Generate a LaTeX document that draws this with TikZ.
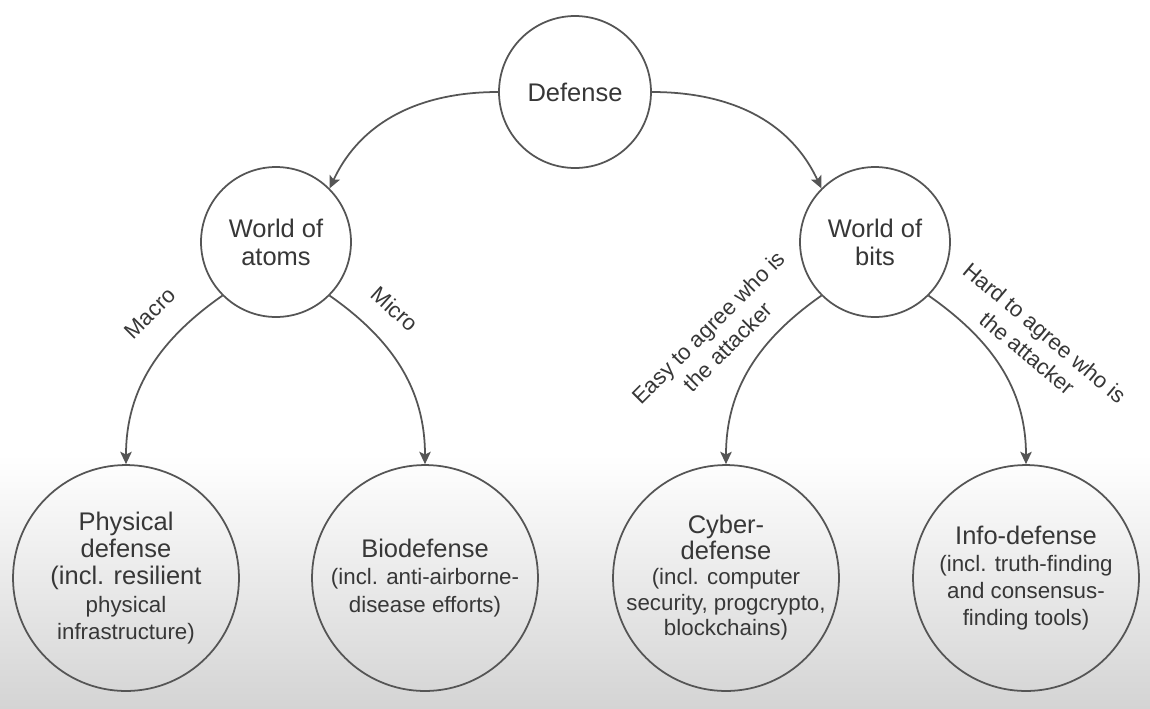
\documentclass[tikz,border=0pt]{standalone}
\usepackage{fontspec}
\setmainfont{Liberation Sans}
\usetikzlibrary{arrows.meta}
\definecolor{linegray}{RGB}{85,85,85}
\definecolor{textgray}{RGB}{55,55,55}
\definecolor{bggray}{RGB}{212,212,212}
\newcommand\subtxt{\fontsize{12.7}{15.5}\selectfont}
\tikzset{
  topnode/.style = {circle,draw=linegray,line width=1pt,inner sep=0pt,text=textgray,align=center,font=\fontsize{14.5}{16}\selectfont},
  leaf/.style = {circle,draw=linegray,line width=1pt,minimum size=4.52cm,inner sep=0pt},
  leaftext/.style = {text=textgray,align=center,font=\fontsize{14.5}{15.5}\selectfont},
  lbl/.style = {text=textgray,align=center,font=\fontsize{12.6}{15.4}\selectfont},
  arr/.style = {draw=linegray,line width=1pt,-{Stealth[length=7pt,width=6.5pt,inset=1.5pt]}}
}

\begin{document}
\begin{tikzpicture}[x=0.02cm,y=0.02cm]
  \fill[white] (0,0) rectangle (1150,-708);
  \shade[top color=white,bottom color=bggray] (0,-455) rectangle (1150,-708);
  \useasboundingbox (0,0) rectangle (1150,-708);

  \node [topnode,minimum size=3.04cm] (def) at (575,-92) {Defense};
  \node [topnode,minimum size=3cm] (atoms) at (276,-242) {World of\\atoms};
  \node [topnode,minimum size=3cm] (bits) at (875,-242) {World of\\bits};
  \foreach \n/\x in {phys/126,bio/425,cyber/726,info/1026} {
      \node [leaf] (\n) at (\x,-578) {};
  }
  \node [leaftext] (physt) at (phys) {Physical\\defense\\(incl. resilient\\\subtxt physical\\\subtxt infrastructure)};
  \node [leaftext] (biot) at (bio) {Biodefense\\\subtxt (incl. anti-airborne-\\\subtxt disease efforts)};
  \node [leaftext,font=\fontsize{14.5}{14.5}\selectfont] (cybert) at (cyber) {Cyber-\\defense\\\subtxt (incl. computer\\\subtxt security, progcrypto,\\\subtxt blockchains)};
  \node [leaftext] (infot) at (info) {Info-defense\\\subtxt (incl. truth-finding\\\subtxt and consensus-\\\subtxt finding tools)};

  \draw [arr] (def.west) to[out=180,in=65] (atoms.north east);
  \draw [arr] (def.east) to[out=0,in=115] (bits.north west);
  \foreach \a/\s/\b/\o in {atoms/south west/phys/215,atoms/south east/bio/-35,bits/south west/cyber/215,bits/south east/info/-35} {
      \draw [arr] (\a.\s) to[out=\o,in=90] (\b.north);
  }

  \node [lbl,rotate=45] (macro) at (150,-313) {Macro};
  \node [lbl,rotate=-42] (micro) at (395,-309) {Micro};
  \node [lbl,rotate=45] (easy) at (718,-337) {Easy to agree who is\\the attacker};
  \node [lbl,rotate=-40] (hard) at (1036,-343) {Hard to agree who is\\the attacker};
\end{tikzpicture}
\end{document}
